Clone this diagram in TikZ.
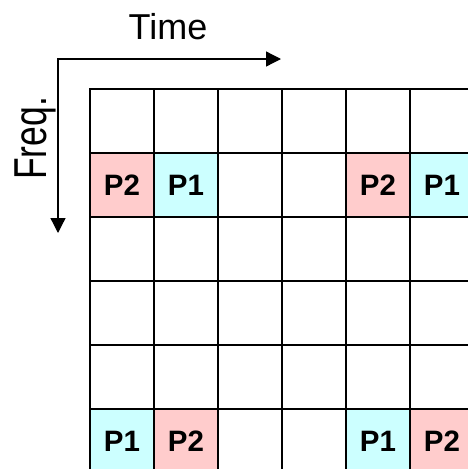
\documentclass[tikz,border=0pt]{standalone}
\usepackage{fontspec}
\setmainfont{Liberation Sans}
\usetikzlibrary{arrows.meta}
\definecolor{pinkc}{RGB}{255,204,204}
\definecolor{cyanc}{RGB}{204,255,255}
\tikzset{
  cell/.style={draw=black, line width=2pt, minimum size=64pt, inner sep=0pt, font=\fontsize{29.5}{32}\selectfont\bfseries},
  pcell/.style={cell, fill=pinkc},
  ccell/.style={cell, fill=cyanc},
  axis/.style={line width=1.3pt, {Triangle[length=15pt,width=15pt]}-{Triangle[length=15pt,width=15pt]}},
  lbl/.style={inner sep=0pt, anchor=base}
}
\begin{document}
\begin{tikzpicture}[x=1pt,y=-1pt]
\useasboundingbox (0,0) rectangle (468,469);
\clip (0,0) rectangle (468,469);
\foreach \i in {0,...,5}{
  \foreach \j in {0,...,5}{
    \node[cell] (c-\i-\j) at ({122+64*\i},{121+64*\j}) {};
  }
}
\node[pcell] (a1) at (c-0-1) {P2};
\node[ccell] (a2) at (c-1-1) {P1};
\node[pcell] (a3) at (c-4-1) {P2};
\node[ccell] (a4) at (c-5-1) {P1};
\node[ccell] (b1) at (c-0-5) {P1};
\node[pcell] (b2) at (c-1-5) {P2};
\node[ccell] (b3) at (c-4-5) {P1};
\node[pcell] (b4) at (c-5-5) {P2};
\coordinate (corner) at (58,59);
\coordinate (tipT) at (281,59);
\coordinate (tipF) at (58,233);
\draw[axis] (tipT) -- (corner) -- (tipF);
\node[lbl, font=\fontsize{36}{40}\selectfont] (time) at (168,39) {Time};
\node[lbl, rotate=90, font=\fontsize{35.5}{40}\selectfont] (freq) at (46,138.5) {\scalebox{1}[1.3]{Freq.}};
\end{tikzpicture}
\end{document}
